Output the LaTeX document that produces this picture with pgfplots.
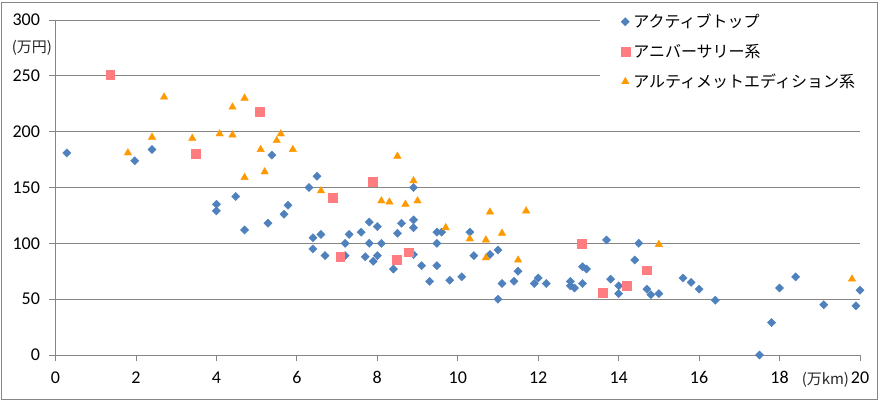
\documentclass[border=0pt]{standalone}
\usepackage{fontspec}
\setmainfont{Carlito}
\newfontfamily\cjk{Noto Sans CJK JP}
\usepackage{pgfplots}
\pgfplotsset{compat=1.18}
\definecolor{blueS}{HTML}{4F81BD}
\definecolor{pinkS}{HTML}{FF7C80}
\definecolor{orangeS}{HTML}{FF9900}
\definecolor{gridG}{HTML}{868686}

\begin{document}
\begin{tikzpicture}
\path (0,0) rectangle (887pt,401pt);
\draw[gridG, line width=0.9pt] (1.7pt,2pt) rectangle (877.3pt,399pt);
\begin{axis}[
  at={(55.5pt,46pt)}, anchor=south west,
  scale only axis, width=804.5pt, height=335pt,
  xmin=0, xmax=20, ymin=0, ymax=300,
  xtick={0,2,...,20}, ytick={0,50,...,300},
  axis x line*=bottom, axis y line*=left,
  axis line style={gridG, line width=0.9pt, -},
  ymajorgrids, grid style={gridG, line width=0.9pt},
  tick align=outside, major tick length=6pt,
  tick style={gridG, line width=0.9pt},
  ticklabel style={font=\fontsize{18}{20}\selectfont, text=black},
  yticklabel style={xshift=-6pt},
  xticklabel style={yshift=-7pt},
  /pgf/number format/assume math mode=true,
  clip=false,
  legend style={
    at={(axis description cs:0.677,1.03)}, anchor=north west,
    draw=none, fill=white,
    font=\cjk\fontsize{16}{19}\selectfont,
    row sep=11pt,
  },
  legend cell align=left,
  legend image code/.code={\path[draw=none, fill=none] (-16pt,0pt) (12pt,0pt); \draw[mark repeat=2,mark phase=2,#1] plot coordinates {(0pt,0pt) (6pt,0pt) (12pt,0pt)};},
]
\addplot[only marks, mark=square*, mark size=2.9pt, mark options={rotate=45, fill=blueS, draw=blueS}] coordinates {
(0.28,181) (1.97,174) (2.4,184) (4.0,135) (4.0,129) (4.48,142) (4.7,112)
(5.28,118) (5.38,179) (5.68,126) (5.78,134) (6.3,150) (6.5,160) (6.4,105)
(6.6,108) (6.4,95) (6.7,89) (7.2,89) (7.2,100) (7.3,108) (7.6,110) (7.8,119)
(7.8,100) (7.7,88) (7.9,84) (8.0,89) (8.0,115) (8.1,100) (8.4,77) (8.5,109)
(8.6,118) (8.9,150) (8.9,121) (8.9,114) (8.9,90) (9.1,80) (9.3,66) (9.48,110)
(9.6,110) (9.48,100) (9.48,80) (9.8,67) (10.1,70) (10.3,110) (10.4,89)
(10.8,90) (11.0,94) (11.0,50) (11.1,64) (11.4,66) (11.5,75) (11.9,64)
(12.0,69) (12.2,64) (12.8,66) (12.8,62) (12.9,60) (13.1,79) (13.2,77)
(13.1,64) (13.7,103) (13.8,68) (14.0,62) (14.0,55) (14.4,85) (14.5,100)
(14.7,59) (14.8,54) (15.0,55) (15.6,69) (15.8,65) (16.0,59) (16.4,49)
(17.5,0) (17.8,29) (18.0,60) (18.4,70) (19.1,45) (19.9,44) (20.0,58)
};
\addlegendentry{アクティブトップ}
\addplot[only marks, mark=square*, mark size=4.4pt, mark options={fill=pinkS, draw=pinkS}] coordinates {
(1.36,251) (3.48,180) (5.07,218) (6.9,141) (7.08,88) (7.88,155) (8.48,85)
(8.78,92) (13.08,100) (13.6,56) (14.2,62) (14.7,76)
};
\addlegendentry{アニバーサリー系}
\addplot[only marks, mark=triangle*, mark size=4.3pt, mark options={fill=orangeS, draw=orangeS}] coordinates {
(1.8,181) (2.4,195) (2.7,231) (3.4,194) (4.08,198) (4.4,222) (4.4,197)
(4.7,230) (4.7,159) (5.1,184) (5.2,164) (5.5,192) (5.6,198) (5.9,184)
(6.6,147) (8.1,138) (8.3,137) (8.5,178) (8.7,135) (8.9,156) (9.0,138)
(9.7,114) (10.3,104) (10.7,103) (10.7,87) (10.8,128) (11.1,109) (11.5,85)
(11.7,129) (15.0,99) (19.8,68)
};
\addlegendentry{アルティメットエディション系}
\node[font=\cjk\fontsize{15}{17}\selectfont, text=black!85] at (axis cs:-0.585,275.5) {(万円)};
\node[font=\cjk\fontsize{15}{17}\selectfont, text=black!85] at (axis cs:19.14,-22.4) {(万km)};
\end{axis}
\end{tikzpicture}
\end{document}
